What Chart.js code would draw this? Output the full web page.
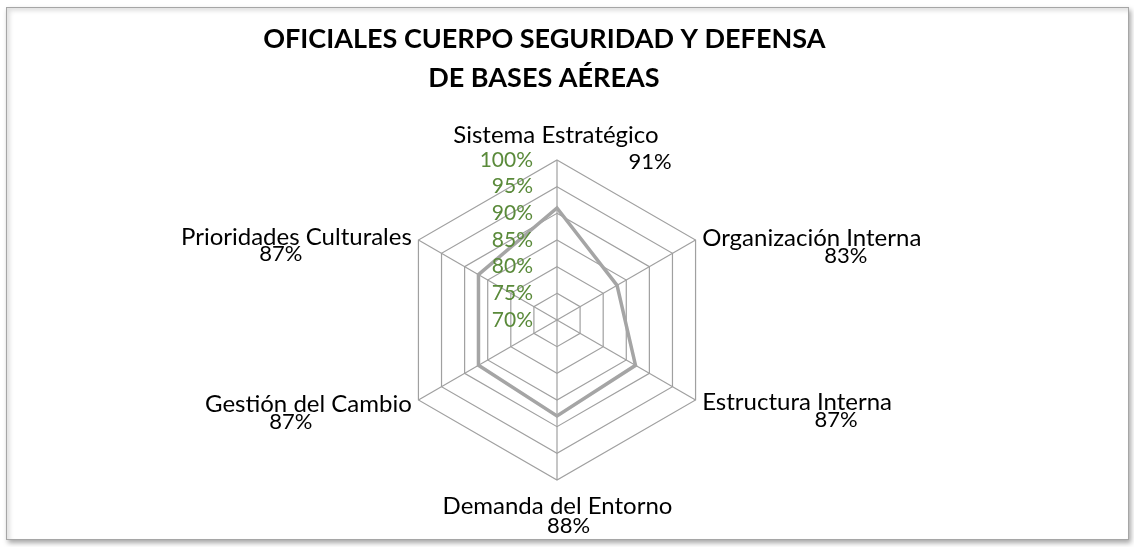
<!DOCTYPE html>
<html>
<head>
<meta charset="utf-8">
<script src="https://cdn.jsdelivr.net/npm/chart.js@4.4.0/dist/chart.umd.min.js"></script>
<style>
  html,body{margin:0;padding:0;background:#fff;}
  #wrap{position:relative;width:1134px;height:547px;overflow:hidden;}
  #frame{position:absolute;left:6px;top:7px;width:1121px;height:531px;border:1px solid #a6a6a6;
         box-shadow:inset 3px 3px 4px rgba(0,0,0,0.12), 2px 3px 5px rgba(0,0,0,0.35);background:#fff;}
  canvas{position:absolute;left:0;top:0;}
</style>
</head>
<body>
<div id="wrap">
  <div id="frame"></div>
  <canvas id="c" width="1134" height="547"></canvas>
</div>
<script>
// ---- data ----
const titleLines = ["OFICIALES CUERPO SEGURIDAD Y DEFENSA", "DE BASES AÉREAS"];
const categories = ["Sistema Estratégico", "Organización Interna", "Estructura Interna",
                    "Demanda del Entorno", "Gestión del Cambio", "Prioridades Culturales"];
const values = [91, 83, 87, 88, 87, 87];
const scaleMin = 70;
const scaleMax = 100;
const scaleStep = 5;

// ---- label layout (offsets only, not data) ----
const labelLayout = [
  {align:'center', dx:-1,  dy:-25, vdx:94,    vdy:27},
  {align:'left',   dx:6.6, dy:-1.5,vdx:34,    vdy:17},
  {align:'left',   dx:6.6, dy:2.5, vdx:39,    vdy:17},
  {align:'center', dx:0.5, dy:26,  vdx:11,    vdy:20},
  {align:'right',  dx:-6.6,dy:4.5, vdx:-17.5, vdy:17},
  {align:'right',  dx:-6.6,dy:-2.5,vdx:-15.5, vdy:16}
];

const labelFont = '24px Lato';
const valueFont = '22px Lato';
const tickFont = '21px Lato';
// trailing spaces shift the centred title slightly left, as in the reference
const titlePad = '\u00a0\u00a0\u00a0\u00a0';

const labelPlugin = {
  id: 'customLabels',
  afterDraw(chart) {
    const s = chart.scales.r;
    const ctx = chart.ctx;
    ctx.save();
    ctx.font = tickFont;
    ctx.fillStyle = '#5a8a3a';
    ctx.textAlign = 'right';
    ctx.textBaseline = 'middle';
    s.ticks.forEach(t => {
      const d = s.getDistanceFromCenterForValue(t.value);
      ctx.fillText(t.value + '%', s.xCenter - 24, s.yCenter - d);
    });
    ctx.fillStyle = '#000';
    ctx.textBaseline = 'middle';
    categories.forEach((cat, i) => {
      const p = s.getPointPosition(i, s.drawingArea);
      const L = labelLayout[i];
      ctx.font = labelFont;
      const w = ctx.measureText(cat).width;
      const x = p.x + L.dx;
      let cx;
      if (L.align === 'left') cx = x + w / 2;
      else if (L.align === 'right') cx = x - w / 2;
      else cx = x;
      const y = p.y + L.dy;
      ctx.textAlign = 'center';
      ctx.fillText(cat, cx, y);
      ctx.font = valueFont;
      ctx.fillText(values[i] + '%', cx + L.vdx, y + L.vdy);
    });
    ctx.restore();
  }
};

new Chart(document.getElementById('c'), {
  type: 'radar',
  data: {
    labels: categories,
    datasets: [{
      data: values,
      borderColor: '#a5a5a5',
      borderWidth: 3.5,
      fill: false,
      pointRadius: 0,
      pointHoverRadius: 0,
      tension: 0
    }]
  },
  options: {
    responsive: false,
    animation: false,
    events: [],
    layout: { padding: { top: 20, bottom: 66, left: 100, right: 120 } },
    plugins: {
      legend: { display: false },
      tooltip: { enabled: false },
      title: {
        display: true,
        text: titleLines.map(t => t + titlePad),
        color: '#000',
        font: { family: 'Lato', size: 27, weight: 'bold', lineHeight: 1.45 },
        padding: { top: 0, bottom: 61 }
      }
    },
    scales: {
      r: {
        min: scaleMin,
        max: scaleMax,
        ticks: { stepSize: scaleStep, display: false },
        grid: { color: '#a0a0a0', lineWidth: 1.2 },
        angleLines: { color: '#a0a0a0', lineWidth: 1.2 },
        pointLabels: { display: false }
      }
    }
  },
  plugins: [labelPlugin]
});
</script>
</body>
</html>
